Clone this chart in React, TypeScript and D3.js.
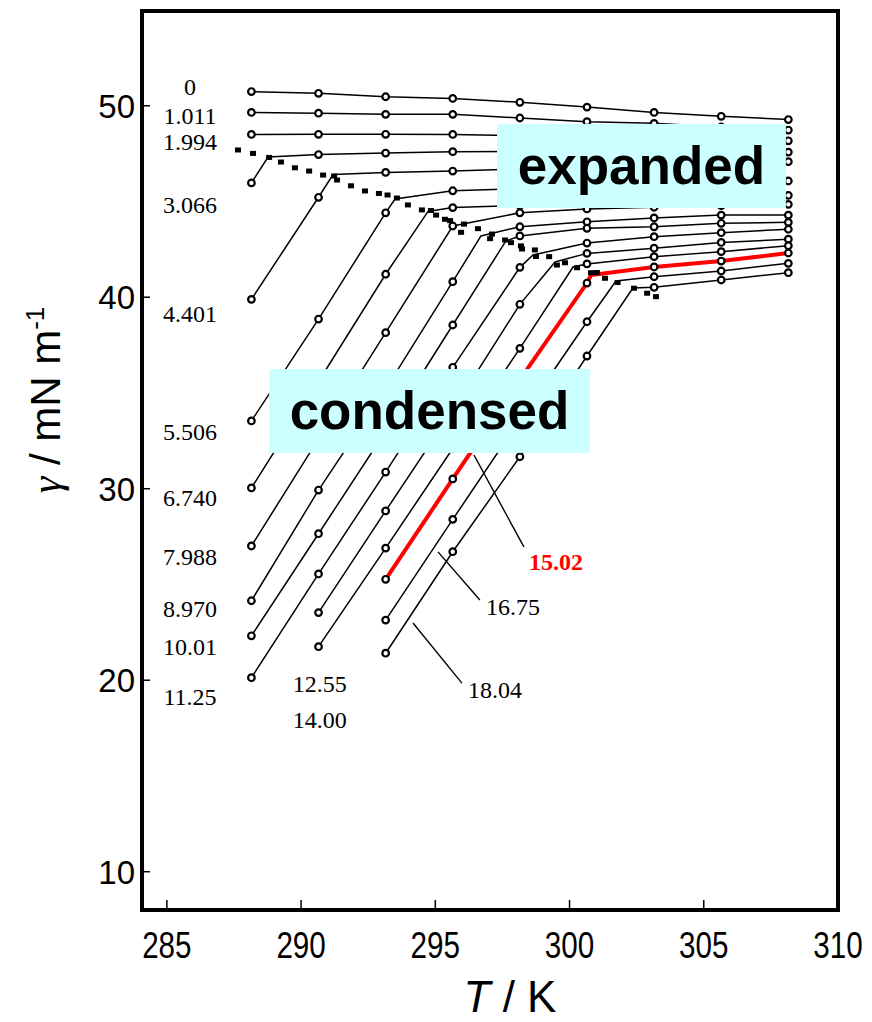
import React, { useEffect, useRef } from 'react';
import * as d3 from 'd3';

// measurement temperatures (K)
const temps = [288.15, 290.65, 293.15, 295.65, 298.15, 300.65, 303.15, 305.65, 308.15];

// concentration labels, one per curve
const concs = ['0', '1.011', '1.994', '3.066', '4.401', '5.506', '6.740', '7.988', '8.970', '10.01', '11.25', '12.55', '14.00', '15.02', '16.75', '18.04'];

// surface tension (mN/m) at each temperature, null = not measured
const g0 = [50.74, 50.65, 50.47, 50.38, 50.18, 49.93, 49.65, 49.45, 49.28];
const g1011 = [49.65, 49.61, 49.55, 49.55, 49.36, 49.17, 49.08, 48.89, 48.73];
const g1994 = [48.5, 48.51, 48.51, 48.5, 48.44, 48.38, 48.32, 48.25, 48.17];
const g3066 = [45.97, 47.45, 47.53, 47.6, 47.62, 47.62, 47.6, 47.59, 47.58];
const g4401 = [39.89, 45.22, 46.52, 46.59, 46.7, 46.8, 46.9, 46.99, 47.08];
const g5506 = [33.54, 38.86, 44.41, 45.56, 45.67, 45.78, 45.88, 45.98, 46.07];
const g6740 = [30.04, 35.6, 41.2, 44.68, 44.8, 44.93, 45.05, 45.18, 45.32];
const g7988 = [27.01, 32.6, 38.15, 43.72, 44.41, 44.61, 44.7, 44.78, 44.85];
const g8970 = [24.15, 29.93, 35.2, 40.81, 43.68, 43.94, 44.14, 44.29, 44.29];
const g1001 = [22.32, 27.65, 33.0, 38.55, 43.2, 43.6, 43.68, 43.86, 43.91];
const g1125 = [20.13, 25.55, 30.87, 36.34, 41.56, 42.83, 43.16, 43.37, 43.55];
const g1255 = [null, 23.53, 28.84, 34.1, 39.63, 42.29, 42.56, 42.86, 43.03];
const g1400 = [null, 21.75, 26.9, 32.1, 37.33, 41.74, 42.12, 42.38, 42.69];
const g1502 = [null, null, 25.27, 30.51, 35.7, 40.74, 41.58, 41.89, 42.31];
const g1675 = [null, null, 23.14, 28.4, 33.6, 38.72, 41.07, 41.37, 41.77];
const g1804 = [null, null, 21.41, 26.71, 31.67, 36.93, 40.52, 40.9, 41.28];

// break point (condensed -> expanded) of each curve
const kinkT = [null, null, null, 288.77, 291.19, 293.5, 294.73, null, 296.7, 297.63, 298.64, 299.46, 300.13, 300.8, 301.73, 302.36];
const kinkG = [null, null, null, 47.32, 46.41, 45.13, 44.48, null, 43.2, 42.94, 42.21, 41.84, 41.58, 41.16, 40.85, 40.48];

// transition line markers
const transT = [287.65, 288.21, 288.81, 289.25, 289.77, 290.3, 290.82, 291.23, 291.34, 291.86, 292.38, 292.9, 293.22, 293.57, 293.98, 294.5, 294.84, 295.03, 295.36, 295.55, 295.96, 296.07, 296.59, 297.04, 297.11, 297.6, 297.82, 298.19, 298.23, 298.71, 298.75, 299.24, 299.53, 299.83, 300.28, 300.8, 301.02, 301.32, 301.79, 302.4, 302.89, 303.22];
const transG = [47.69, 47.51, 47.3, 47.06, 46.76, 46.59, 46.38, 46.33, 46.12, 45.82, 45.55, 45.42, 45.34, 45.18, 44.82, 44.56, 44.53, 44.29, 44.07, 44.0, 43.39, 43.82, 43.58, 43.06, 43.3, 42.99, 42.85, 42.68, 42.52, 42.47, 42.13, 42.12, 41.68, 41.8, 41.54, 41.28, 41.29, 40.99, 40.77, 40.47, 40.21, 40.03];

// where each concentration label sits (T, gamma)
const labelT = [285.86, 285.86, 285.86, 285.86, 285.86, 285.86, 285.86, 285.86, 285.86, 285.86, 285.86, 290.7, 290.7, 299.5, 297.89, 297.22];
const labelG = [50.56, 49.05, 47.69, 44.4, 38.71, 32.54, 29.1, 26.02, 23.3, 21.32, 18.71, 19.39, 17.5, 25.76, 23.41, 19.07];

// leader lines for the right-hand labels: [T1, g1, T2, g2]
const leaders = [
  [296.44, 31.76, 298.3, 26.96],
  [295.1, 26.7, 296.66, 24.19],
  [294.17, 22.99, 295.99, 19.85],
];

const xTicks = [285, 290, 295, 300, 305, 310];
const yTicks = [10, 20, 30, 40, 50];

const allSeries = [g0, g1011, g1994, g3066, g4401, g5506, g6740, g7988, g8970, g1001, g1125, g1255, g1400, g1502, g1675, g1804];

const App = () => {
  const ref = useRef(null);

  useEffect(() => {
    const svg = d3.select(ref.current);
    svg.selectAll('*').remove();

    const x = d3.scaleLinear().domain([284, 310]).range([140, 838]);
    const y = d3.scaleLinear().domain([8, 55]).range([910, 10]);

    const line = d3.line().x((d) => x(d[0])).y((d) => y(d[1]));

    const curves = allSeries.map((g, i) => {
      const pts = temps.map((t, j) => [t, g[j]]).filter((d) => d[1] != null);
      const all = pts.slice();
      if (kinkT[i] != null) all.push([kinkT[i], kinkG[i]]);
      all.sort((a, b) => a[0] - b[0]);
      return { i, pts, all };
    });

    // curves
    svg.append('g')
      .selectAll('path')
      .data(curves)
      .enter()
      .append('path')
      .attr('d', (c) => line(c.all))
      .attr('fill', 'none')
      .attr('stroke', (c) => (concs[c.i] === '15.02' ? '#ff0000' : '#000'))
      .attr('stroke-width', (c) => (concs[c.i] === '15.02' ? 4 : 1.5));

    // transition markers
    svg.append('g')
      .selectAll('rect')
      .data(transT)
      .enter()
      .append('rect')
      .attr('x', (d) => x(d) - 3)
      .attr('y', (d, i) => y(transG[i]) - 2.5)
      .attr('width', 6)
      .attr('height', 5)
      .attr('fill', '#000');

    // data points
    const pts = curves.flatMap((c) => c.pts);
    svg.append('g')
      .selectAll('circle')
      .data(pts)
      .enter()
      .append('circle')
      .attr('cx', (d) => x(d[0]))
      .attr('cy', (d) => y(d[1]))
      .attr('r', 3.3)
      .attr('fill', '#fff')
      .attr('stroke', '#000')
      .attr('stroke-width', 2.2);

    // frame
    svg.append('rect')
      .attr('x', x(284) + 2).attr('y', y(55) + 1)
      .attr('width', x(310) - x(284) - 2).attr('height', y(8) - y(55) - 1)
      .attr('fill', 'none').attr('stroke', '#000').attr('stroke-width', 4);

    // ticks
    svg.append('g').selectAll('line').data(xTicks.slice(0, -1)).enter().append('line')
      .attr('x1', (d) => x(d)).attr('x2', (d) => x(d))
      .attr('y1', y(8)).attr('y2', y(8) - 10)
      .attr('stroke', '#000').attr('stroke-width', 1.5);
    svg.append('g').selectAll('line').data(yTicks).enter().append('line')
      .attr('x1', x(284)).attr('x2', x(284) + 10)
      .attr('y1', (d) => y(d)).attr('y2', (d) => y(d))
      .attr('stroke', '#000').attr('stroke-width', 1.5);

    const sans = 'Liberation Sans, Arial, sans-serif';
    svg.append('g').selectAll('text').data(xTicks).enter().append('text')
      .attr('transform', (d) => `translate(${x(d)},958) scale(0.8,1)`)
      .attr('text-anchor', 'middle')
      .attr('font-family', sans).attr('font-size', 37)
      .text((d) => d);
    svg.append('g').selectAll('text').data(yTicks).enter().append('text')
      .attr('x', 135).attr('y', (d) => y(d) + 12)
      .attr('text-anchor', 'end')
      .attr('font-family', sans).attr('font-size', 33)
      .text((d) => d);

    // axis titles
    const xt = svg.append('text').attr('x', 510).attr('y', 1012)
      .attr('text-anchor', 'middle').attr('font-family', sans).attr('font-size', 44);
    xt.append('tspan').attr('font-style', 'italic').text('T');
    xt.append('tspan').text(' / K');

    const yt = svg.append('text')
      .attr('transform', 'translate(60,400) rotate(-90)')
      .attr('text-anchor', 'middle').attr('font-family', sans).attr('font-size', 42);
    yt.append('tspan').attr('font-style', 'italic').attr('font-family', 'Liberation Serif, serif').text('γ');
    yt.append('tspan').text(' / mN m');
    yt.append('tspan').attr('font-size', 26).attr('dy', -16).text('-1');

    // shaded region labels
    const boxes = [
      { t: 'expanded', x0: 297.3, x1: 308.06, g0: 49.05, g1: 44.66 },
      { t: 'condensed', x0: 288.81, x1: 300.76, g0: 36.25, g1: 31.87 },
    ];
    boxes.forEach((b) => {
      svg.append('rect')
        .attr('x', x(b.x0)).attr('y', y(b.g0))
        .attr('width', x(b.x1) - x(b.x0)).attr('height', y(b.g1) - y(b.g0))
        .attr('fill', '#ccffff');
      svg.append('text')
        .attr('x', (x(b.x0) + x(b.x1)) / 2).attr('y', (y(b.g0) + y(b.g1)) / 2 + 18)
        .attr('text-anchor', 'middle').attr('font-family', sans)
        .attr('font-weight', 'bold').attr('font-size', 53)
        .text(b.t);
    });

    // leaders
    svg.append('g').selectAll('line').data(leaders).enter().append('line')
      .attr('x1', (d) => x(d[0])).attr('y1', (d) => y(d[1]))
      .attr('x2', (d) => x(d[2])).attr('y2', (d) => y(d[3]))
      .attr('stroke', '#000').attr('stroke-width', 1.4);

    // concentration labels
    svg.append('g').selectAll('text').data(concs).enter().append('text')
      .attr('x', (d, i) => x(labelT[i])).attr('y', (d, i) => y(labelG[i]))
      .attr('text-anchor', 'middle')
      .attr('font-family', 'Liberation Serif, Times New Roman, serif')
      .attr('font-size', 24)
      .attr('font-weight', (d) => (d === '15.02' ? 'bold' : 'normal'))
      .attr('fill', (d) => (d === '15.02' ? '#ff0000' : '#000'))
      .text((d) => d);
  }, []);

  return (
    <svg ref={ref} width={872} height={1022} style={{ position: 'absolute', left: 0, top: 0, background: '#fff' }} />
  );
};

export default App;
